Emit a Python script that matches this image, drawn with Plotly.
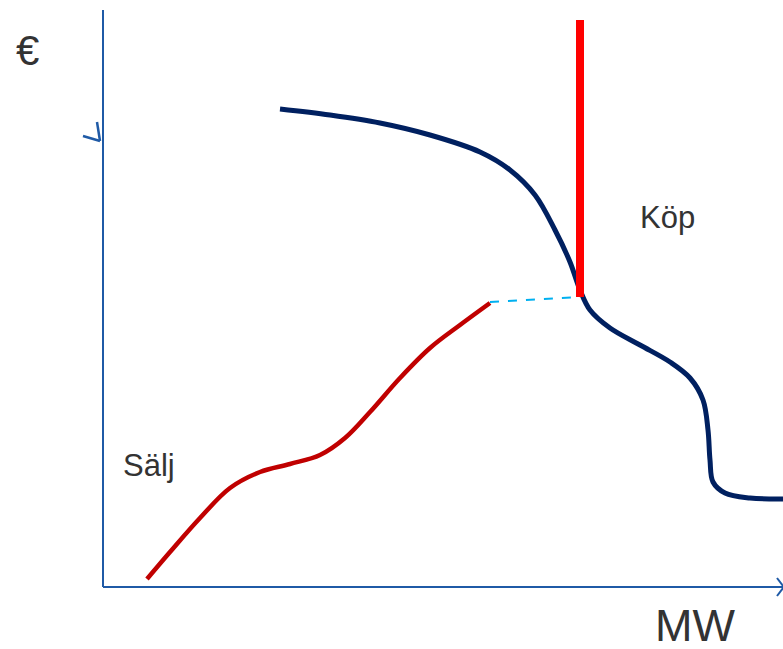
import plotly.graph_objects as go

# Coordinates: x in MW units from origin, y in € units from origin
buy_x = [177, 227, 277, 327, 377, 407, 432, 452, 467, 477, 487, 507, 537, 567, 587, 600, 605, 607, 610, 622, 647, 680]
buy_y = [478, 472, 464, 452, 435, 417, 392, 357, 325, 297, 277, 259, 242, 225, 209, 187, 157, 127, 105, 94, 89, 88]

sell_x = [44, 67, 97, 127, 157, 187, 217, 242, 267, 297, 327, 357, 387]
sell_y = [8, 35, 69, 99, 115, 123, 132, 149, 175, 209, 239, 262, 284]

gap_x = [387, 477]
gap_y = [285, 290]

bid_x = [477, 477]
bid_y = [290, 567]

fig = go.Figure()
fig.add_trace(go.Scatter(x=buy_x, y=buy_y, mode="lines", line=dict(color="#002060", width=5, shape="spline", smoothing=1.0)))
fig.add_trace(go.Scatter(x=sell_x, y=sell_y, mode="lines", line=dict(color="#C00000", width=4.5, shape="spline", smoothing=1.0)))
fig.add_trace(go.Scatter(x=gap_x, y=gap_y, mode="lines", line=dict(color="#00B0F0", width=2, dash="dash")))
fig.add_trace(go.Scatter(x=bid_x, y=bid_y, mode="lines", line=dict(color="#FF0000", width=8)))

axc = "#1F5AA6"
shapes = [
    dict(type="line", x0=0, y0=0, x1=0, y1=577, line=dict(color=axc, width=2)),
    dict(type="line", x0=0, y0=0, x1=680, y1=0, line=dict(color=axc, width=2)),
    dict(type="line", x0=-20, y0=451, x1=-3, y1=446, line=dict(color=axc, width=2.5)),
    dict(type="line", x0=-6, y0=465, x1=-3, y1=446, line=dict(color=axc, width=2.5)),
    dict(type="line", x0=674, y0=9, x1=680, y1=1, line=dict(color=axc, width=2)),
    dict(type="line", x0=674, y0=-9, x1=680, y1=-1, line=dict(color=axc, width=2)),
]

annotations = [
    dict(x=564, y=370, text="Köp", showarrow=False, font=dict(size=31, color="#333333")),
    dict(x=46, y=122, text="Sälj", showarrow=False, font=dict(size=31, color="#333333")),
    dict(x=-76, y=537, text="€", showarrow=False, font=dict(size=42, color="#333333")),
    dict(x=592, y=-38, text="MW", showarrow=False, font=dict(size=45, color="#333333")),
]

fig.update_layout(
    width=783, height=649,
    margin=dict(l=0, r=0, t=0, b=0),
    paper_bgcolor="white", plot_bgcolor="white",
    showlegend=False,
    hovermode=False,
    font=dict(family="Liberation Sans, Arial, sans-serif"),
    xaxis=dict(range=[-103, 680], visible=False, fixedrange=True),
    yaxis=dict(range=[-62, 587], visible=False, fixedrange=True),
    shapes=shapes,
    annotations=annotations,
)

fig.write_html(
    "out.html",
    config={"displayModeBar": False},
    post_script="document.body.style.margin='0';document.body.style.overflow='hidden';document.documentElement.style.overflow='hidden';",
)
